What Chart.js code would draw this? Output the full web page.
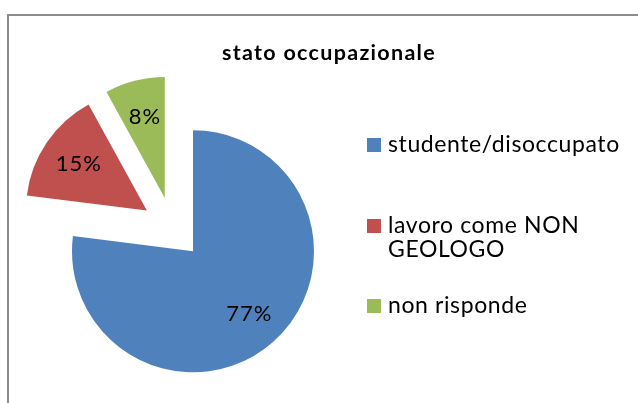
<!DOCTYPE html>
<html>
<head>
<meta charset="utf-8">
<script src="https://cdn.jsdelivr.net/npm/chart.js@4/dist/chart.umd.min.js"></script>
<style>
  html, body { margin: 0; padding: 0; background: #fff; overflow: hidden; }
  body { width: 638px; height: 403px; position: relative; font-family: Lato, "Open Sans", sans-serif; }
  #frame { position: absolute; left: 7px; top: 14px; width: 700px; height: 500px; border: 2px solid #8c8c8c; box-sizing: border-box; }
  #wrap { position: absolute; left: 0; top: 0; width: 638px; height: 403px; }
  #title { position: absolute; left: 0; width: 658px; top: 40px; text-align: center; font-weight: bold; font-size: 21.5px; line-height: 24px; letter-spacing: 1.3px; color: #000; }
  .leg { position: absolute; left: 367px; font-size: 23px; line-height: 24px; letter-spacing: 0.6px; color: #000; }
  .leg .box { position: absolute; left: 0; top: 7px; width: 14px; height: 14px; }
  .leg .txt { position: absolute; left: 21px; top: 0; white-space: nowrap; }
</style>
</head>
<body>
<div id="frame"></div>
<div id="wrap"><canvas id="pieChart" width="638" height="403"></canvas></div>
<div id="title">stato occupazionale</div>
<div id="legend"></div>
<script>
const labels = ['studente/disoccupato', 'lavoro come NON GEOLOGO', 'non risponde'];
const legendLines = [['studente/disoccupato'], ['lavoro come NON', 'GEOLOGO'], ['non risponde']];
const values = [77, 15, 8];
const colors = ['#4F81BD', '#C0504D', '#9BBB59'];
const legendTops = [131, 211.5, 292];

// Excel style explode: each slice pushed out from the centre by the same distance
const explode = 31;
const total = values.reduce((a, b) => a + b, 0);

const explodeSlices = {
    id: 'explodeSlices',
    afterDatasetUpdate(chart, args) {
        args.meta.data.forEach(arc => {
            const mid = (arc.startAngle + arc.endAngle) / 2;
            arc.x += Math.cos(mid) * explode;
            arc.y += Math.sin(mid) * explode;
        });
    }
};

const pctLabels = {
    id: 'pctLabels',
    afterDatasetsDraw(chart) {
        const ctx = chart.ctx;
        const meta = chart.getDatasetMeta(0);
        ctx.save();
        ctx.font = '22px Lato, "Open Sans", sans-serif';
        ctx.letterSpacing = '1px';
        ctx.fillStyle = '#000';
        ctx.textAlign = 'center';
        ctx.textBaseline = 'middle';
        meta.data.forEach((arc, i) => {
            const mid = (arc.startAngle + arc.endAngle) / 2;
            const r = arc.outerRadius * 0.69;
            const x = arc.x + Math.cos(mid) * r + 1;
            const y = arc.y + Math.sin(mid) * r;
            ctx.fillText(Math.round(values[i] / total * 100) + '%', x, y);
        });
        ctx.restore();
    }
};

const pieCtx = document.getElementById('pieChart').getContext('2d');
new Chart(pieCtx, {
    type: 'pie',
    data: {
        labels: labels,
        datasets: [{
            data: values,
            backgroundColor: colors,
            borderWidth: 0
        }]
    },
    options: {
        responsive: false,
        animation: false,
        radius: 121,
        layout: { padding: { left: 0, right: 293, top: 60, bottom: 7 } },
        plugins: { legend: { display: false }, tooltip: { enabled: false } }
    },
    plugins: [explodeSlices, pctLabels]
});

// legend on the right, built from the same arrays
const legendEl = document.getElementById('legend');
legendLines.forEach((lines, i) => {
    const item = document.createElement('div');
    item.className = 'leg';
    item.style.top = legendTops[i] + 'px';
    item.innerHTML = '<div class="box" style="background:' + colors[i] + '"></div><div class="txt">' + lines.join('<br>') + '</div>';
    legendEl.appendChild(item);
});
</script>
</body>
</html>
